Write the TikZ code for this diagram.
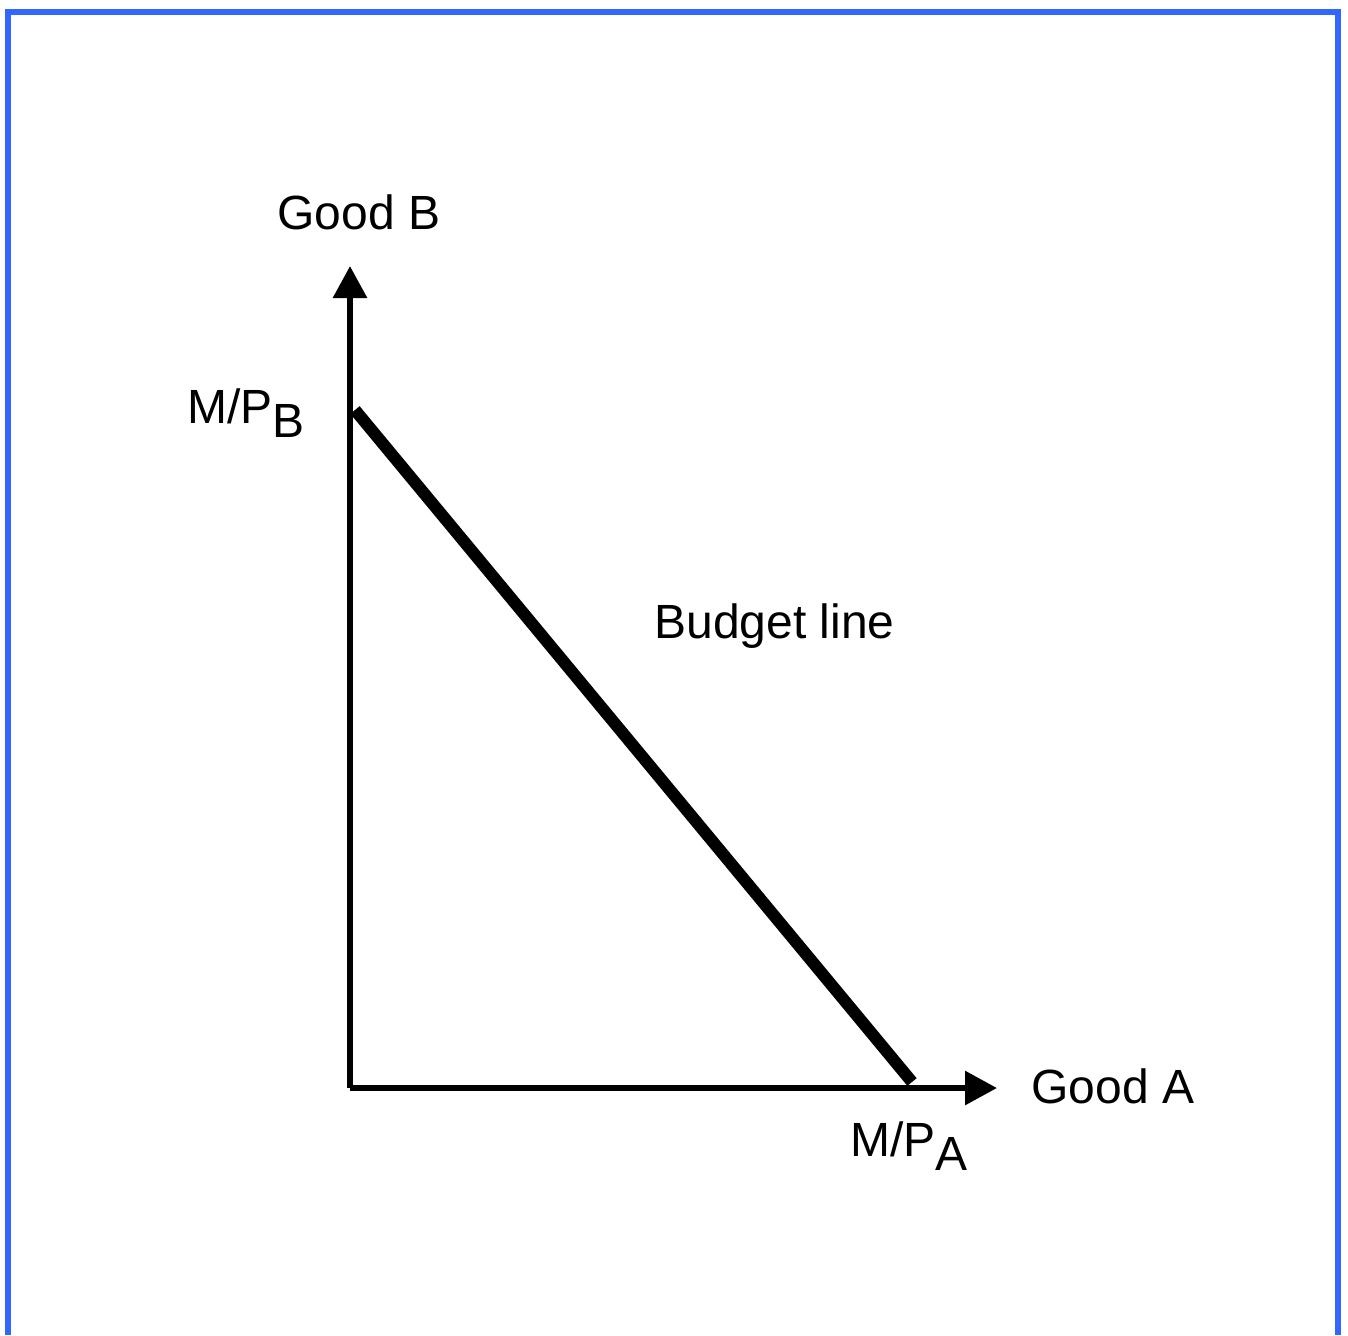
\documentclass[tikz,border=0pt]{standalone}
\usepackage{fontspec}
\setmainfont{Liberation Sans}
\usepackage{xcolor}
\usetikzlibrary{arrows.meta, positioning}
\definecolor{frameblue}{HTML}{3366FF}
\tikzstyle{axis} = [line width=3pt, -{Triangle[length=16pt, width=16.5pt]}]
\tikzstyle{budget} = [line width=6pt]
\tikzstyle{lbl} = [inner sep=0pt, anchor=base west, font=\fontsize{24}{28}\selectfont]
\newcommand{\lowsub}[1]{\raisebox{-7pt}{#1}}

\begin{document}
\begin{tikzpicture}[x=0.5pt, y=-0.5pt]
    \useasboundingbox (0,0) rectangle (1348,1335);
    \draw[line width=3pt, frameblue] (8,1335) -- (8,12) -- (1338,12) -- (1338,1335);

    \coordinate (O) at (350,1088);
    \coordinate (ytip) at (350,266);
    \coordinate (xtip) at (997,1088);
    \coordinate (mb) at (355,410);
    \coordinate (ma) at (912,1082);

    \draw[axis] (O) -- (ytip);
    \draw[axis] (O) -- (xtip);
    \draw[budget] (mb) -- (ma);

    \node[lbl] (goodB) at (277,229) {Good B};
    \node[lbl] (goodA) at (1031,1103) {Good A};
    \node[lbl] (mpb) at (187,423) {M/P\lowsub{B}};
    \node[lbl] (mpa) at (850,1156) {M/P\lowsub{A}};
    \node[lbl] (bline) at (654,638) {Budget line};
\end{tikzpicture}
\end{document}
